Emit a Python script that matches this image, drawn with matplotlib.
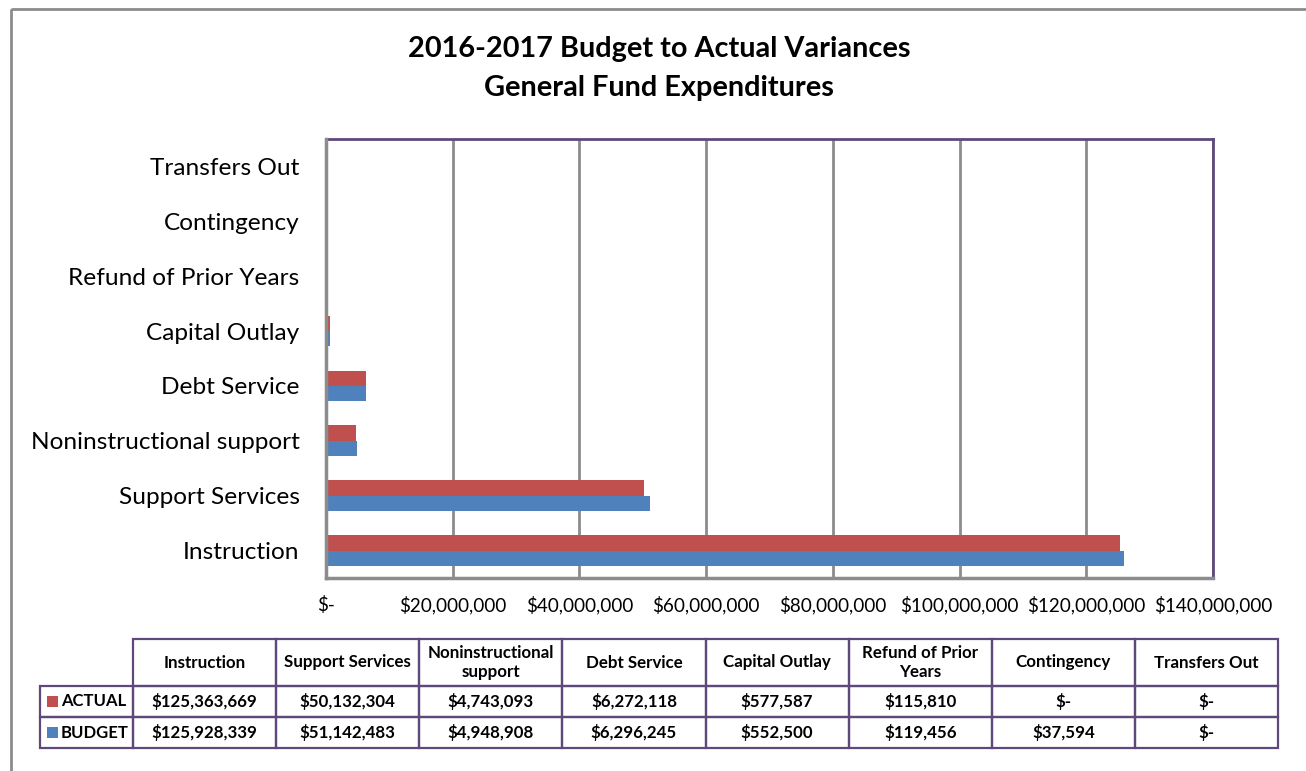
import matplotlib.pyplot as plt
from matplotlib.patches import Rectangle

plt.rcParams['font.family'] = ['Lato', 'DejaVu Sans']

# data
categories = ['Instruction', 'Support Services', 'Noninstructional support',
              'Debt Service', 'Capital Outlay', 'Refund of Prior Years',
              'Contingency', 'Transfers Out']
table_headers = ['Instruction', 'Support Services', 'Noninstructional\nsupport',
                 'Debt Service', 'Capital Outlay', 'Refund of Prior\nYears',
                 'Contingency', 'Transfers Out']
actual = [125363669, 50132304, 4743093, 6272118, 577587, 115810, 0, 0]
budget = [125928339, 51142483, 4948908, 6296245, 552500, 119456, 37594, 0]
x_ticks = [0, 20e6, 40e6, 60e6, 80e6, 100e6, 120e6, 140e6]

RED = '#C0504D'
BLUE = '#4F81BD'
PURPLE = '#5F497A'
GRID = '#8C8C8C'

W, H = 1306, 771
fig = plt.figure(figsize=(W / 100, H / 100), dpi=100)


def px_axes(x0, y0, x1, y1):
    return fig.add_axes([x0 / W, 1 - y1 / H, (x1 - x0) / W, (y1 - y0) / H])


# outer chart frame (only top/left edges show in the crop)
bg = fig.add_axes([0, 0, 1, 1])
bg.set_xlim(0, W)
bg.set_ylim(H, 0)
bg.axis('off')
bg.add_patch(Rectangle((10.5, 8.5), W + 20, H + 20, fill=False,
                       ec='#8C8C8C', lw=2))

fig.text(659 / W, 1 - 49 / H, '2016-2017 Budget to Actual Variances',
         ha='center', va='center', fontsize=20.8, fontweight='bold')
fig.text(659 / W, 1 - 88 / H, 'General Fund Expenditures',
         ha='center', va='center', fontsize=20.8, fontweight='bold')

# bar chart
ax = px_axes(326, 139, 1213, 578)
ypos = list(range(len(categories)))
h = 0.28
ax.barh([y + h / 2 for y in ypos], actual, height=h, color=RED, zorder=2)
ax.barh([y - h / 2 for y in ypos], budget, height=h, color=BLUE, zorder=2)
ax.set_xlim(0, 140e6)
ax.set_ylim(-0.5, len(categories) - 0.5)
ax.set_yticks(ypos)
ax.set_yticklabels(categories, fontsize=17.6)
ax.tick_params(axis='y', length=0, pad=19)

labels = ['$-' if v == 0 else '${:,.0f}'.format(v) for v in x_ticks]
ax.set_xticks(x_ticks)
ax.set_xticklabels(labels, fontsize=13.6)
ax.tick_params(axis='x', length=0, pad=13)
ax.grid(axis='x', color=GRID, lw=2, zorder=0)
ax.set_axisbelow(True)
for side in ['left', 'bottom']:
    ax.spines[side].set_color(GRID)
    ax.spines[side].set_linewidth(2.5)
    ax.spines[side].set_zorder(4)
for side in ['top', 'right']:
    ax.spines[side].set_color(PURPLE)
    ax.spines[side].set_linewidth(2)


# data table below
def money(v):
    return '$-' if v == 0 else '${:,.0f}'.format(v)


col_x0 = 133
col_w = (1278 - 133) / len(categories)
row_y = [639, 686, 717, 748]
tfs = 12.2
for i, head in enumerate(table_headers):
    x0 = col_x0 + i * col_w
    bg.add_patch(Rectangle((x0, row_y[0]), col_w, row_y[1] - row_y[0],
                           fill=False, ec=PURPLE, lw=1.6))
    bg.text(x0 + col_w / 2, (row_y[0] + row_y[1]) / 2, head, ha='center',
            va='center', fontsize=tfs, fontweight='bold', linespacing=1.3)

series = [('ACTUAL', actual, RED), ('BUDGET', budget, BLUE)]
for r, (name, vals, color) in enumerate(series):
    y0, y1 = row_y[r + 1], row_y[r + 2]
    bg.add_patch(Rectangle((40, y0), col_x0 - 40, y1 - y0, fill=False,
                           ec=PURPLE, lw=1.6))
    bg.add_patch(Rectangle((47, (y0 + y1) / 2 - 5.5), 11, 11, color=color,
                           lw=0))
    bg.text(61, (y0 + y1) / 2, name, ha='left', va='center', fontsize=12,
            fontweight='bold')
    for i, v in enumerate(vals):
        x0 = col_x0 + i * col_w
        bg.add_patch(Rectangle((x0, y0), col_w, y1 - y0, fill=False,
                               ec=PURPLE, lw=1.6))
        bg.text(x0 + col_w / 2, (y0 + y1) / 2, money(v), ha='center',
                va='center', fontsize=tfs, fontweight='bold')

fig.savefig('out.png', dpi=100)
